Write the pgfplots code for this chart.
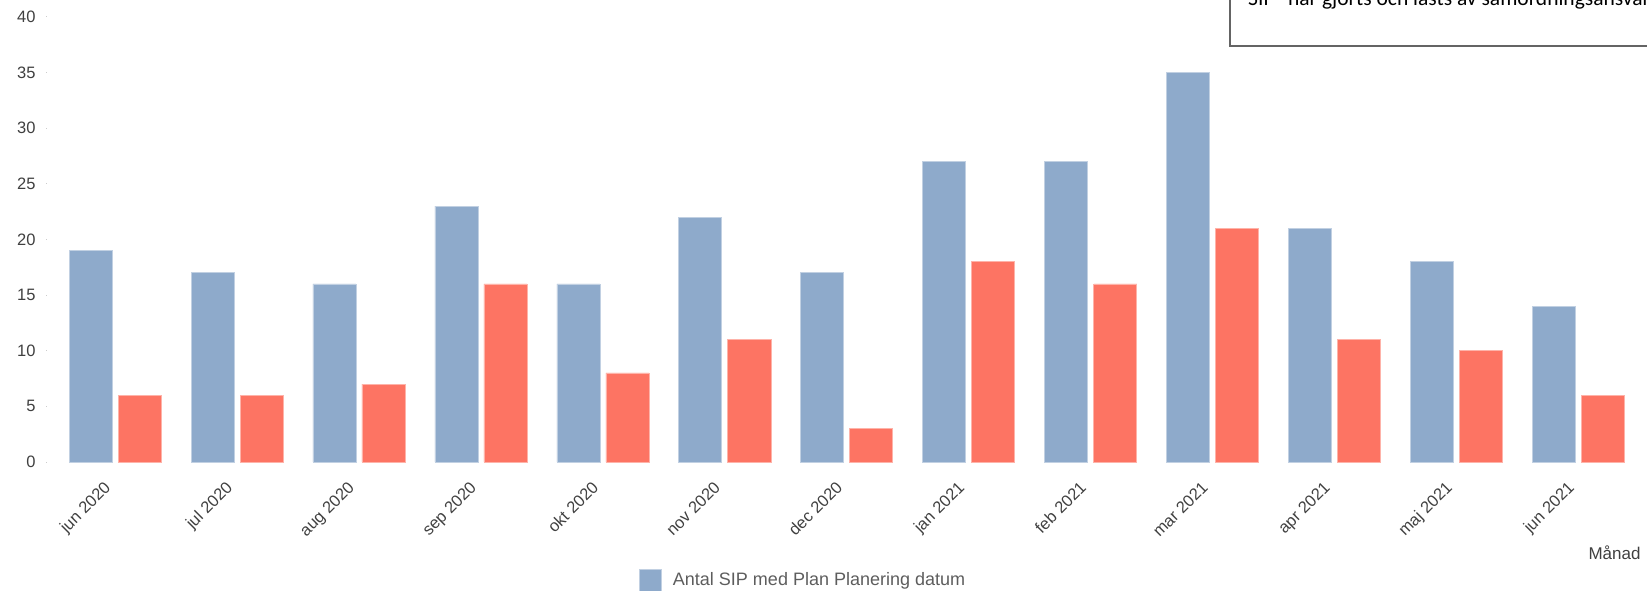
\documentclass[border=0pt]{standalone}
\usepackage{fontspec}
\setmainfont{Liberation Sans}
\newfontfamily\calibri{Carlito}
\usepackage{pgfplots}
\pgfplotsset{compat=1.18}
\definecolor{sipblue}{RGB}{142,170,203}
\definecolor{sipred}{RGB}{253,116,99}
\definecolor{labelgray}{RGB}{64,64,64}
\definecolor{boxgray}{RGB}{100,100,100}

\begin{document}
\begin{tikzpicture}
\begin{axis}[
    at={(46pt,128pt)}, anchor=south west,
    scale only axis, width=1601pt, height=445.2pt,
    xmin=-0.566, xmax=12.56, ymin=0, ymax=40,
    axis line style={draw=none},
    tick pos=left,
    ytick={0,5,...,40},
    xtick={0,...,12},
    xticklabels={jun 2020,jul 2020,aug 2020,sep 2020,okt 2020,nov 2020,dec 2020,jan 2021,feb 2021,mar 2021,apr 2021,maj 2021,jun 2021},
    x tick style={draw=none},
    y tick style={draw=gray!40, line width=1pt},
    major tick length=1pt,
    tick label style={font=\fontsize{16.5}{16.5}\selectfont, text=labelgray},
    yticklabel style={anchor=east, xshift=-7pt},
    xticklabel style={rotate=45, anchor=north east, xshift=-18pt, yshift=-1pt},
    /pgf/number format/assume math mode=true,
    legend style={at={(0.3685,-0.265)}, anchor=west, draw=none, fill=none,
        font=\fontsize{18}{18}\selectfont, text=labelgray!85!white,
        /tikz/every odd column/.style={column sep=9pt}},
    legend image code/.code={\draw[#1] (0pt,-11pt) rectangle (22pt,11pt);},
]
\addplot[ybar, bar width=43pt, bar shift=-24.5pt, fill=sipblue, draw=sipblue!55!white, line width=0.8pt]
  coordinates {(0,19) (1,17) (2,16) (3,23) (4,16) (5,22) (6,17) (7,27) (8,27) (9,35) (10,21) (11,18) (12,14)};
\addlegendentry{Antal SIP med Plan Planering datum}
\addplot[ybar, bar width=43pt, bar shift=24.5pt, fill=sipred, draw=sipred!55!white, line width=0.8pt, forget plot]
  coordinates {(0,6) (1,6) (2,7) (3,16) (4,8) (5,11) (6,3) (7,18) (8,16) (9,21) (10,11) (11,10) (12,6)};
\end{axis}
\node[anchor=base east, font=\fontsize{17}{17}\selectfont, text=labelgray] at (1644pt,31pt) {Månad};
\draw[boxgray, line width=1.5pt] (1230pt,700pt) -- (1230pt,544pt) -- (1700pt,544pt);
\node[anchor=base west, inner sep=0pt, font=\calibri\fontsize{21.5}{21.5}\selectfont] at (1248pt,584pt) {SIP" har gjorts och låsts av samordningsansvarig};
\pgfresetboundingbox
\path[use as bounding box] (0pt,0pt) rectangle (1647pt,590pt);
\end{tikzpicture}
\end{document}
